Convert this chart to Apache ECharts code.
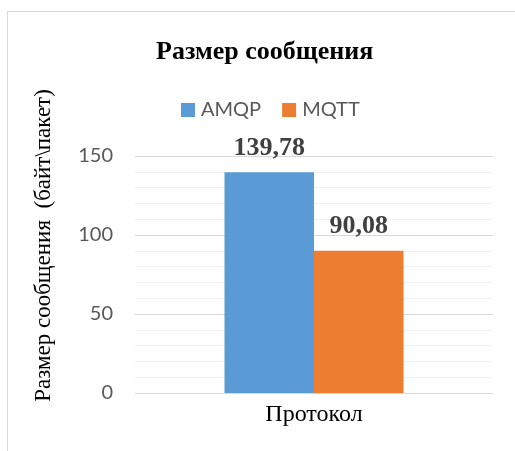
<!DOCTYPE html>
<html><head><meta charset="utf-8">
<script src="https://cdn.jsdelivr.net/npm/echarts@6/dist/echarts.min.js"></script>
<style>html,body{margin:0;padding:0;background:#fff}#c{width:515px;height:451px}</style>
</head><body><div id="c"></div>
<script>
const categories = ['Протокол'];
const seriesNames = ['AMQP', 'MQTT'];
const amqpValues = [139.78];
const mqttValues = [90.08];
const colors = ['#5B9BD5', '#ED7D31'];

const SERIF = 'Liberation Serif';
const SANS = 'Lato';
const chart = echarts.init(document.getElementById('c'));
const labelStyle = {
  show: true, position: 'top', distance: 11,
  fontFamily: SERIF, fontWeight: 'bold', fontSize: 26, color: '#404040',
  formatter: p => p.value.toFixed(2).replace('.', ',')
};
chart.setOption({
  animation: false,
  graphic: [{type: 'rect', shape: {x: 7.5, y: 11.5, width: 600, height: 600},
    style: {fill: 'none', stroke: '#d9d9d9', lineWidth: 1}, z: -10}],
  title: {
    text: 'Размер сообщения', left: 151, top: 34,
    textStyle: {fontFamily: SERIF, fontWeight: 'bold', fontSize: 26, color: '#000'}
  },
  legend: {
    data: seriesNames, top: 95, left: 176, itemWidth: 14, itemHeight: 14, itemGap: 21,
    icon: 'rect',
    textStyle: {fontFamily: SANS, fontSize: 20, color: '#595959', padding: [0,0,0,1]}
  },
  grid: {left: 135, right: 22, top: 156, bottom: 58},
  xAxis: {
    type: 'category', data: categories,
    axisLine: {lineStyle: {color: '#d9d9d9'}}, axisTick: {show: false},
    axisLabel: {fontFamily: SERIF, fontSize: 24, color: '#000', margin: 10}
  },
  yAxis: {
    type: 'value', min: 0, max: 150, interval: 50,
    name: 'Размер сообщения  (байт\\пакет)', nameLocation: 'middle', nameGap: 80, nameRotate: 90,
    nameTextStyle: {fontFamily: SERIF, fontSize: 23, color: '#000', padding: [0, 0, 0, 58]},
    axisLine: {show: false}, axisTick: {show: false},
    axisLabel: {fontFamily: SANS, fontSize: 20, color: '#595959', margin: 22},
    splitLine: {lineStyle: {color: '#d9d9d9', width: 1}},
    minorTick: {show: false, splitNumber: 5},
    minorSplitLine: {show: true, lineStyle: {color: '#f0f0f0', width: 1}}
  },
  series: [
    {name: seriesNames[0], type: 'bar', data: amqpValues, barWidth: '25%', barGap: '0%', itemStyle: {color: colors[0]}, label: labelStyle},
    {name: seriesNames[1], type: 'bar', data: mqttValues, barWidth: '25%', barGap: '0%', itemStyle: {color: colors[1]}, label: labelStyle}
  ]
});
</script></body></html>
